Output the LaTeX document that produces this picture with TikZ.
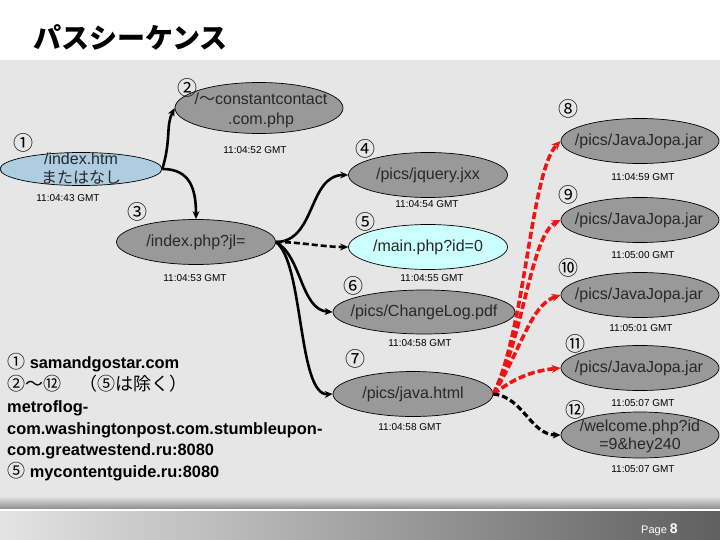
\documentclass[tikz,border=0pt]{standalone}
\usepackage{fontspec}
\setmainfont{Liberation Sans}
\newfontfamily\jp{Noto Sans CJK JP}
\usetikzlibrary{shapes.geometric,arrows.meta}
\definecolor{bg}{RGB}{230,230,230}
\definecolor{ngray}{RGB}{153,153,153}
\definecolor{nblue}{RGB}{174,205,225}
\definecolor{ncyan}{RGB}{204,255,255}
\definecolor{ntext}{RGB}{40,40,40}
\definecolor{ered}{RGB}{240,20,20}
\definecolor{fdark}{RGB}{140,140,140}
\definecolor{fl}{RGB}{228,228,228}
\definecolor{fm}{RGB}{190,190,190}
\definecolor{fr}{RGB}{95,95,95}
\tikzset{
  ell/.style={ellipse, draw=black, line width=0.7pt, fill=ngray, inner sep=0pt},
  ntxt/.style={text=ntext, font=\fontsize{16}{19}\selectfont, align=center, inner sep=0pt},
  ts/.style={font=\fontsize{10}{12}\selectfont, inner sep=0pt},
  num/.style={font=\jp\fontsize{20}{20}\selectfont, inner sep=0pt},
  legend/.style={font=\bfseries\fontsize{16.4}{20}\selectfont, inner sep=0pt, anchor=base west},
  edge/.style={line width=2.6pt, -{Stealth[length=8pt,width=7pt]}},
  dedge/.style={edge, dash pattern=on 6pt off 3pt},
  redge/.style={line width=3.6pt, color=ered, dash pattern=on 7pt off 3pt, -{Stealth[length=9pt,width=8pt]}}
}
\begin{document}
\begin{tikzpicture}[x=1pt,y=-1pt]
\useasboundingbox (0,0) rectangle (720,540);
% backgrounds
\fill[white] (0,0) rectangle (720,60);
\fill[bg] (0,60) rectangle (720,500);
\shade[top color=bg, bottom color=fdark] (0,496) rectangle (720,509);
\fill[white] (0,509) rectangle (720,511);
\shade[left color=fl, middle color=fm, right color=fr] (0,511) rectangle (720,540);
\node[text=white, font=\fontsize{11}{11}\selectfont, anchor=base west, inner sep=0pt] (pg) at (641,533) {Page \textbf{\fontsize{14}{14}\selectfont 8}};
% title
\node[font=\jp\bfseries\fontsize{28}{28}\selectfont, anchor=west, inner sep=0pt] (title) at (33,37) {パスシーケンス};

% nodes
\node[ell, fill=nblue, minimum width=162pt, minimum height=33pt] (n1) at (81,169) {};
\node[ntxt] (t1) at (81,169) {/index.htm\\{\jp またはなし}};
\node[ell, minimum width=168pt, minimum height=51pt] (n2) at (259,108) {};
\node[ntxt, font=\fontsize{16}{20}\selectfont] (t2) at (261,110) {/{\jp ～}constantcontact\\.com.php};
\node[ell, minimum width=159pt, minimum height=45pt] (n3) at (196,242) {};
\node[ntxt] (t3) at (196,242) {/index.php?jl=};
\node[ell, minimum width=159pt, minimum height=45pt] (n4) at (428,175) {};
\node[ntxt] (t4) at (428,175) {/pics/jquery.jxx};
\node[ell, fill=ncyan, minimum width=159pt, minimum height=45pt] (n5) at (428,247) {};
\node[ntxt] (t5) at (428,247) {/main.php?id=0};
\node[ell, minimum width=182pt, minimum height=44pt] (n6) at (424,312) {};
\node[ntxt] (t6) at (424,312) {/pics/ChangeLog.pdf};
\node[ell, minimum width=160pt, minimum height=45pt] (n7) at (413,394) {};
\node[ntxt] (t7) at (413,394) {/pics/java.html};
\node[ell, minimum width=158pt, minimum height=45pt] (n8) at (640,141) {};
\node[ntxt] (t8) at (639,141) {/pics/JavaJopa.jar};
\node[ell, minimum width=158pt, minimum height=45pt] (n9) at (640,220) {};
\node[ntxt] (t9) at (639,220) {/pics/JavaJopa.jar};
\node[ell, minimum width=158pt, minimum height=45pt] (n10) at (640,295) {};
\node[ntxt] (t10) at (639,295) {/pics/JavaJopa.jar};
\node[ell, minimum width=158pt, minimum height=45pt] (n11) at (640,368) {};
\node[ntxt] (t11) at (639,368) {/pics/JavaJopa.jar};
\node[ell, minimum width=158pt, minimum height=46pt] (n12) at (640,435) {};
\node[ntxt, font=\fontsize{16}{18}\selectfont] (t12) at (640,436) {/welcome.php?id\\=9\&hey240};

% circled numbers
\node[num] (c1) at (23,143) {①};
\node[num] (c2) at (187,88) {②};
\node[num] (c3) at (137,212) {③};
\node[num] (c4) at (365,149) {④};
\node[num] (c5) at (365,222) {⑤};
\node[num] (c6) at (353,286) {⑥};
\node[num] (c7) at (355,359) {⑦};
\node[num] (c8) at (568,109) {⑧};
\node[num] (c9) at (568,195) {⑨};
\node[num] (c10) at (568,268) {⑩};
\node[num] (c11) at (575,344) {⑪};
\node[num] (c12) at (575,410) {⑫};

% timestamps
\node[ts] (s1) at (68,198) {11:04:43 GMT};
\node[ts] (s2) at (255,150) {11:04:52 GMT};
\node[ts] (s3) at (195,278) {11:04:53 GMT};
\node[ts] (s4) at (427,204) {11:04:54 GMT};
\node[ts] (s5) at (432,278) {11:04:55 GMT};
\node[ts] (s6) at (420,343) {11:04:58 GMT};
\node[ts] (s7) at (410,427) {11:04:58 GMT};
\node[ts] (s8) at (643,177) {11:04:59 GMT};
\node[ts] (s9) at (643,255) {11:05:00 GMT};
\node[ts] (s10) at (641,328) {11:05:01 GMT};
\node[ts] (s11) at (643,403) {11:05:07 GMT};
\node[ts] (s12) at (643,469) {11:05:07 GMT};

% legend
\node[legend] (l1) at (7,368) {{\jp\mdseries\fontsize{18}{18}\selectfont ①} samandgostar.com};
\node[legend] (l2) at (7,390) {{\jp\mdseries\fontsize{18}{18}\selectfont ②～⑫\hspace{18pt}（⑤は除く）}};
\node[legend] (l3) at (7,412) {metroflog-};
\node[legend] (l4) at (7,434) {com.washingtonpost.com.stumbleupon-};
\node[legend] (l5) at (7,455) {com.greatwestend.ru:8080};
\node[legend] (l6) at (7,477) {{\jp\mdseries\fontsize{18}{18}\selectfont ⑤} mycontentguide.ru:8080};

% edges
\draw[edge] (n1.east) .. controls +(9,-30) and +(-9,18) .. (n2.west);
\draw[edge] (n1.east) .. controls +(28,0) and +(0,-30) .. (n3.north);
\draw[edge] (n3.east) .. controls +(40,0) and +(-40,0) .. (n4.west);
\draw[dedge] (n3.east) .. controls +(25,0) and +(-25,0) .. (n5.west);
\draw[edge] (n3.east) .. controls +(26,14) and +(-32,-2) .. (n6.west);
\draw[edge] (n3.east) .. controls +(28,20) and +(-35,2) .. (n7.west);
\draw[redge] (n7.east) .. controls +(32,-64) and +(-30,30) .. (n8.west);
\draw[redge] (n7.east) .. controls +(30,-55) and +(-30,15) .. (n9.west);
\draw[redge] (n7.east) .. controls +(28,-45) and +(-30,10) .. (n10.west);
\draw[redge] (n7.east) .. controls +(20,-15) and +(-30,3) .. (n11.west);
\draw[dedge, line width=3.2pt] (n7.east) .. controls +(30,3) and +(-30,0) .. (n12.west);
\end{tikzpicture}
\end{document}
